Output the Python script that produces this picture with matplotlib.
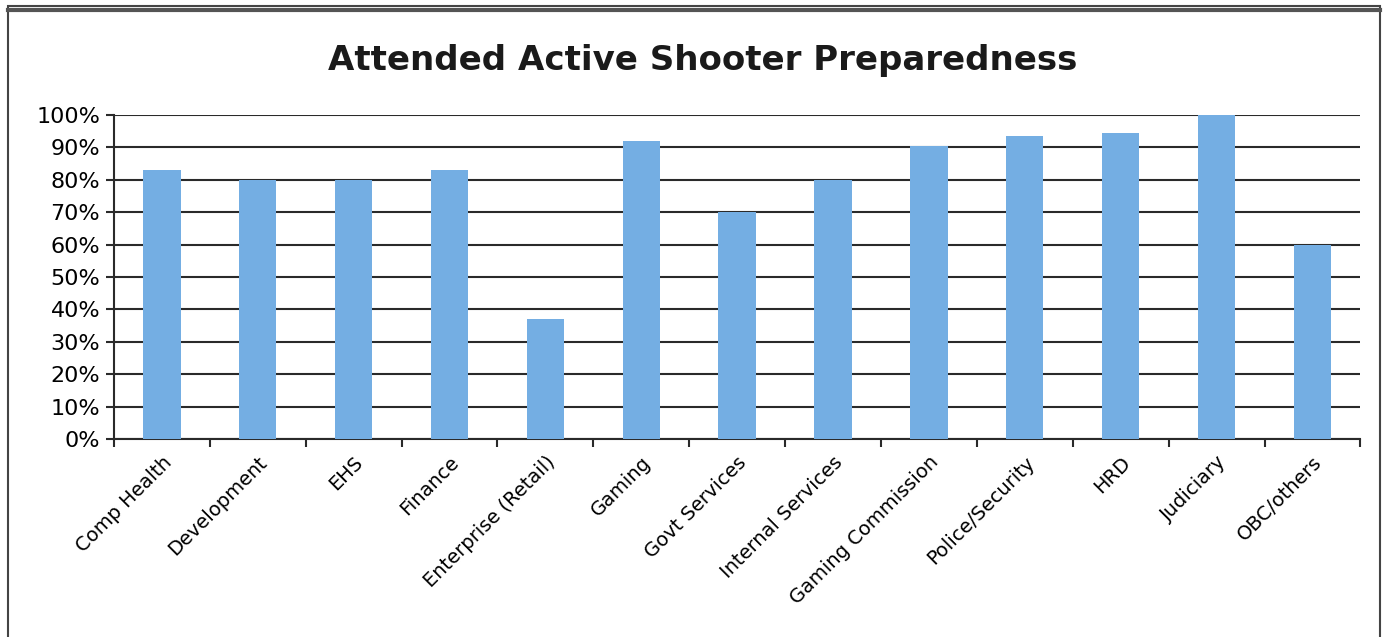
import matplotlib.pyplot as plt
from matplotlib.patches import Rectangle
from matplotlib.ticker import FuncFormatter, FixedLocator

departments = ["Comp Health", "Development", "EHS", "Finance", "Enterprise (Retail)",
               "Gaming", "Govt Services", "Internal Services", "Gaming Commission",
               "Police/Security", "HRD", "Judiciary", "OBC/others"]
attended = [83, 80, 80, 83, 37, 92, 70, 80, 90.5, 93.5, 94.5, 100, 60]

plt.rcParams['font.family'] = ['DejaVu Sans']

fig = plt.figure(figsize=(13.88, 6.37), dpi=100)
ax = fig.add_axes([0.0821, 0.311, 0.898, 0.5085])

x = list(range(len(departments)))
ax.bar(x, attended, width=0.39, color="#74aee3", zorder=3)

ax.set_xlim(-0.5, len(departments) - 0.5)
ax.set_ylim(0, 100)
ax.set_yticks(range(0, 101, 10))
ax.yaxis.set_major_formatter(FuncFormatter(lambda v, p: f"{int(v)}%"))
ax.grid(axis="y", color="#2a2a2a", linewidth=1.5, zorder=1)

ax.set_xticks(x)
ax.set_xticklabels(departments, rotation=45, ha="right", rotation_mode="anchor", fontsize=14)
ax.tick_params(axis="x", length=0, pad=10)
ax.xaxis.set_minor_locator(FixedLocator([i - 0.5 for i in range(len(departments) + 1)]))
ax.tick_params(axis="x", which="minor", length=6, width=1.5, color="#2a2a2a")
ax.tick_params(axis="y", length=6, width=1.5, color="#2a2a2a", labelsize=16, pad=4)

for side in ["top", "right"]:
    ax.spines[side].set_visible(False)
for side in ["left", "bottom"]:
    ax.spines[side].set_color("#2a2a2a")
    ax.spines[side].set_linewidth(1.5)

fig.text(0.506, 0.905, "Attended Active Shooter Preparedness", ha="center", va="center",
         fontsize=24.5, fontweight="bold", color="#1a1a1a")

# outer frame around the chart
fig.patches.append(Rectangle((0.006, -0.01), 0.988, 1.0, transform=fig.transFigure,
                             fill=False, edgecolor="#444444", linewidth=1.5))
fig.add_artist(plt.Line2D([0.006, 0.994], [0.985, 0.985], transform=fig.transFigure,
                          color="#555555", linewidth=3))

fig.savefig("out.png", dpi=100)
